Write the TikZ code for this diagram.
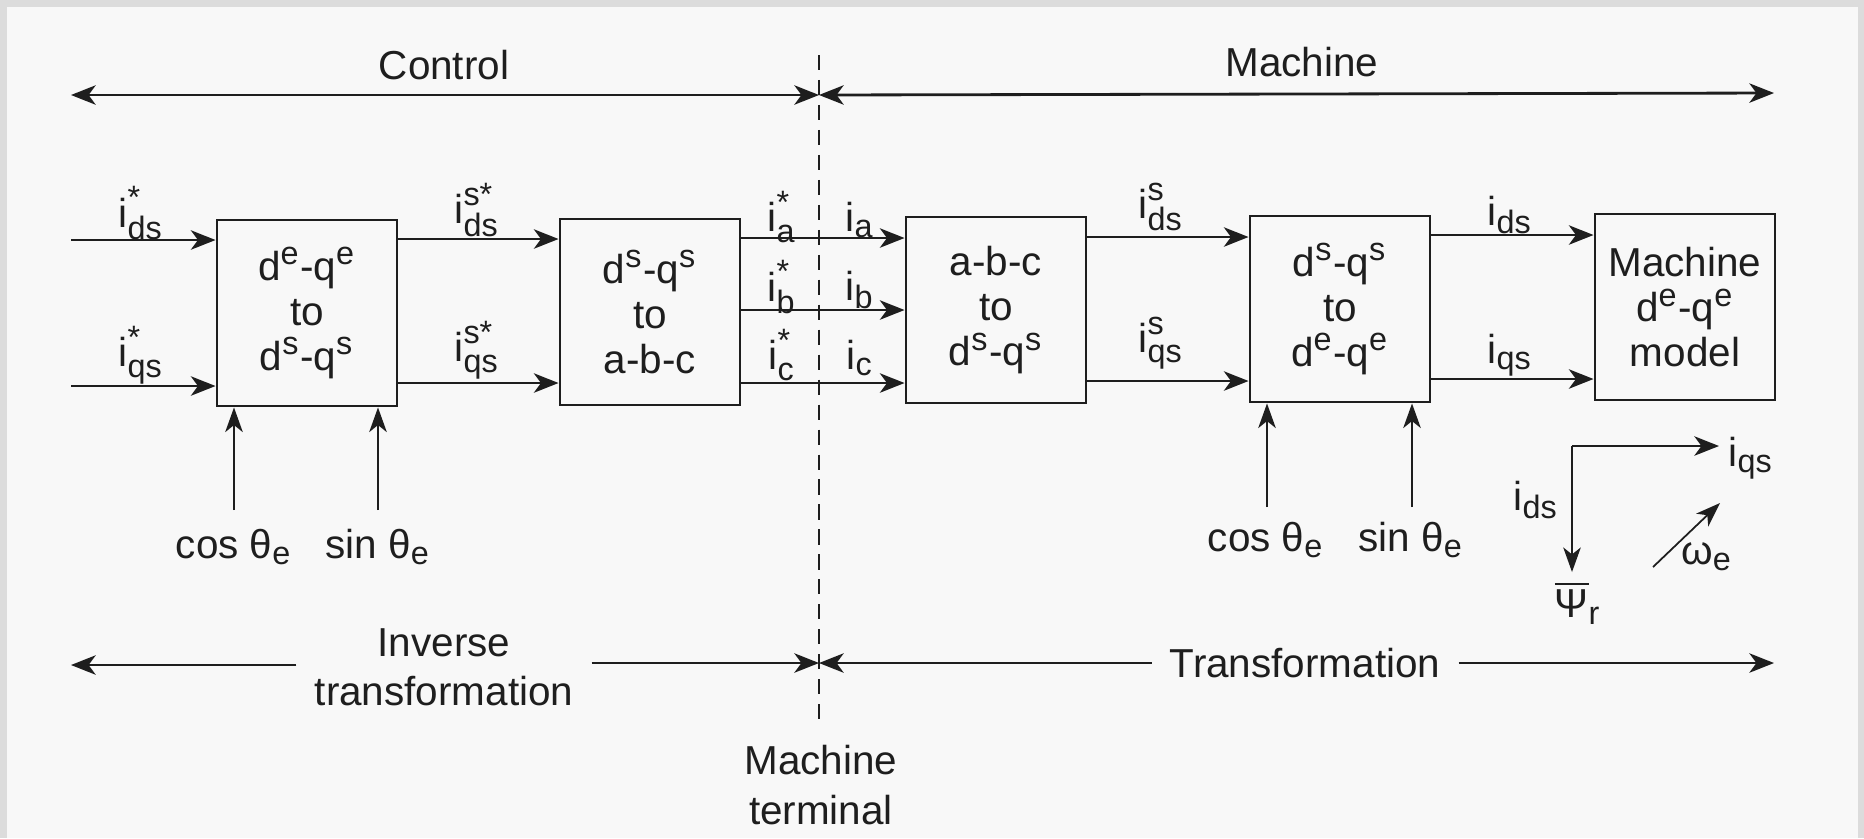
\documentclass[tikz,border=0pt]{standalone}
\usepackage{fontspec}
\usepackage{amsmath}
\setmainfont{Liberation Sans}
\usetikzlibrary{arrows.meta,calc}
\DeclareMathSizes{11.5}{11.5}{9.2}{7}
\definecolor{framegray}{HTML}{DCDCDC}
\definecolor{paper}{HTML}{F8F8F8}
\definecolor{ink}{HTML}{1E1E1E}
\newcommand{\sps}[1]{\ensuremath{^{\textnormal{#1}}}}
\newcommand{\iss}[2]{\ensuremath{\textnormal{i}^{\textnormal{#1}}_{\textnormal{#2}}}}
\newcommand{\isb}[1]{\ensuremath{\textnormal{i}_{\textnormal{#1}}}}
\newcommand{\thsub}{\ensuremath{\textnormal{θ}_{\textnormal{e}}}}
\tikzset{
  blk/.style={draw=ink, line width=0.8pt, minimum width=1.8cm, minimum height=1.86cm, align=center, inner sep=0pt, text=ink},
  arr/.style={draw=ink, line width=0.8pt, -{Stealth[length=7pt,width=5.5pt,inset=2pt]}},
  dblarr/.style={draw=ink, line width=0.8pt, {Stealth[length=7pt,width=5.5pt,inset=2pt]}-{Stealth[length=7pt,width=5.5pt,inset=2pt]}},
  thinarr/.style={draw=ink, line width=0.5pt, -{Stealth[length=7pt,width=5pt,inset=2pt]}},
  lbl/.style={text=ink, inner sep=1pt},
  dashline/.style={draw=ink, line width=0.5pt, dash pattern=on 4.3pt off 2.8pt},
}
\begin{document}
\begin{tikzpicture}[x=0.01cm, y=-0.01cm, font=\fontsize{11.5}{12.8}\selectfont]
\fill[framegray] (0,0) rectangle (1864,838);
\fill[paper] (7,7) rectangle (1858,838);
\useasboundingbox (0,0) rectangle (1864,838);

% boxes
\node[blk] (B1) at (307,313) {d\sps{e}-q\sps{e}\\to\\d\sps{s}-q\sps{s}};
\node[blk] (B2) at (650,312) {d\sps{s}-q\sps{s}\\to\\a-b-c};
\node[blk] (B3) at (996,310) {a-b-c\\to\\d\sps{s}-q\sps{s}};
\node[blk] (B4) at (1340,309) {d\sps{s}-q\sps{s}\\to\\d\sps{e}-q\sps{e}};
\node[blk] (B5) at (1685,307) {Machine\\d\sps{e}-q\sps{e}\\model};

% row coordinates
\coordinate (in1) at (71,240);
\coordinate (in2) at (71,386);
\coordinate (y12a) at (0,239);
\coordinate (y12b) at (0,383);
\coordinate (y23a) at (0,238);
\coordinate (y23b) at (0,310);
\coordinate (y23c) at (0,383);
\coordinate (y34a) at (0,237);
\coordinate (y34b) at (0,381);
\coordinate (y45a) at (0,235);
\coordinate (y45b) at (0,379);

\draw[arr] (in1) -- (in1 -| B1.west);
\draw[arr] (in2) -- (in2 -| B1.west);
\draw[arr] (B1.east |- y12a) -- (B2.west |- y12a);
\draw[arr] (B1.east |- y12b) -- (B2.west |- y12b);
\draw[arr] (B2.east |- y23a) -- (B3.west |- y23a);
\draw[arr] (B2.east |- y23b) -- (B3.west |- y23b);
\draw[arr] (B2.east |- y23c) -- (B3.west |- y23c);
\draw[arr] (B3.east |- y34a) -- (B4.west |- y34a);
\draw[arr] (B3.east |- y34b) -- (B4.west |- y34b);
\draw[arr] (B4.east |- y45a) -- (B5.west |- y45a);
\draw[arr] (B4.east |- y45b) -- (B5.west |- y45b);

% signal labels
\node[lbl] at (141,213) {\iss{*}{ds}};
\node[lbl] at (141,355) {\iss{*}{qs}};
\node[lbl] at (477,210) {\iss{s*}{ds}};
\node[lbl] at (477,350) {\iss{s*}{qs}};
\node[lbl] at (782,217) {\iss{*}{a}};
\node[lbl] at (782,287) {\iss{*}{b}};
\node[lbl] at (782,355) {\iss{*}{c}};
\node[lbl] at (860,220) {\isb{a}};
\node[lbl] at (860,290) {\isb{b}};
\node[lbl] at (860,358) {\isb{c}};
\node[lbl] at (1161,207) {\iss{s}{ds}};
\node[lbl] at (1161,343) {\iss{s}{qs}};
\node[lbl] at (1510,215) {\isb{ds}};
\node[lbl] at (1510,355) {\isb{qs}};

% cos / sin inputs
\node[lbl] (c1) at (234,547) {cos \thsub};
\node[lbl] (s1) at (378,547) {sin \thsub};
\node[lbl] (c2) at (1266,540) {cos \thsub};
\node[lbl] (s2) at (1411,540) {sin \thsub};
\coordinate (c1t) at (234,510);
\coordinate (s1t) at (378,510);
\coordinate (c2t) at (1267,507);
\coordinate (s2t) at (1412,507);
\draw[thinarr] (c1t) -- (c1t |- B1.south);
\draw[thinarr] (s1t) -- (s1t |- B1.south);
\draw[thinarr] (c2t) -- (c2t |- B4.south);
\draw[thinarr] (s2t) -- (s2t |- B4.south);

% dashed terminal line
\coordinate (dtop) at (819,55);
\coordinate (dbot) at (819,727);
\draw[dashline] (dtop) -- (dbot);

% top range arrows
\node[lbl] (ctrl) at (444,65) {Control};
\node[lbl] (mach) at (1302,62) {Machine};
\coordinate (tl) at (71,95);
\coordinate (tm) at (819,95);
\coordinate (tr) at (1774,93);
\draw[dblarr] (tl) -- (tm);
\draw[dblarr] (tm) -- (tr);

% bottom range arrows
\node[lbl, align=center, font=\fontsize{11.5}{13.9}\selectfont, inner xsep=5pt] (inv) at (444,667) {Inverse\\transformation};
\node[lbl, inner xsep=5pt] (trf) at (1305,663) {Transformation};
\coordinate (bl) at (71,665);
\coordinate (bm) at (819,663);
\coordinate (br) at (1774,663);
\draw[arr] (inv.west |- bl) -- (bl);
\draw[arr] (inv.east |- bm) -- (bm);
\draw[arr] (trf.west) -- (bm);
\draw[arr] (trf.east) -- (br);

\node[lbl, align=center, font=\fontsize{11.5}{14.2}\selectfont] (term) at (821,785) {Machine\\terminal};

% axes
\coordinate (O) at (1572,446);
\coordinate (qx) at (1719,446);
\coordinate (dy) at (1572,572);
\coordinate (w1) at (1653,567);
\coordinate (w2) at (1720,503);
\draw[arr] (O) -- (qx);
\draw[thinarr] (O) -- (dy);
\draw[thinarr] (w1) -- (w2);
\node[lbl] (liqs) at (1751,458) {\isb{qs}};
\node[lbl] (lids) at (1536,500) {\isb{ds}};
\node[lbl] (lpsi) at (1578,603) {\ensuremath{\overline{\textnormal{Ψ}}_{\textnormal{r}}}};
\node[lbl] (lw) at (1707,557) {\ensuremath{\textnormal{ω}_{\textnormal{e}}}};
\end{tikzpicture}
\end{document}
